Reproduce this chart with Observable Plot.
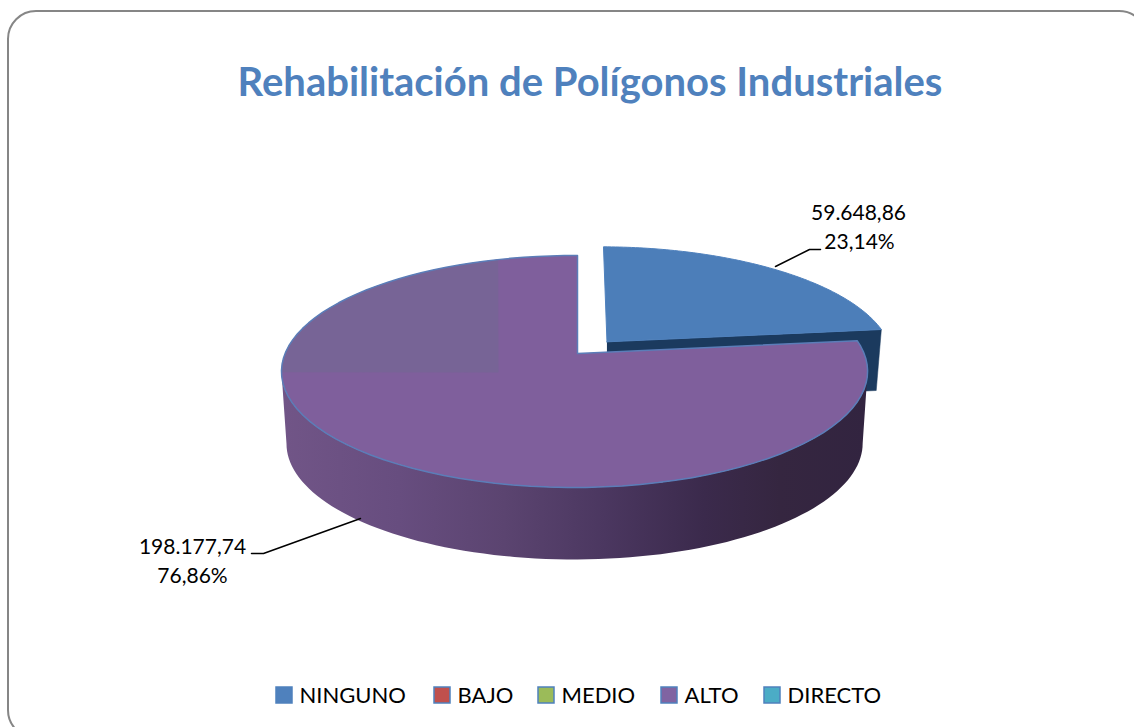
<!DOCTYPE html>
<html><head><meta charset="utf-8">
<style>html,body{margin:0;padding:0;background:#fff;overflow:hidden}svg{display:block;overflow:hidden}</style>
<script src="https://cdn.jsdelivr.net/npm/d3@7"></script>
<script src="https://cdn.jsdelivr.net/npm/@observablehq/plot@0.6"></script>
</head><body><div id="c"></div>
<script>
const titleText = "Rehabilitación de Polígonos Industriales";
const categories = ["NINGUNO", "BAJO", "MEDIO", "ALTO", "DIRECTO"];
const values = [59648.86, 0, 0, 198177.74, 0];

// styles and layout (kept apart from the data)
const legendFill = ["#4F81BD", "#C0504D", "#9BBB59", "#8064A2", "#4BACC6"];
const legendX = [276, 434, 538, 661, 764];
const cam = {cx: 577, cy: 353, rx: 289.5, ry: 113.2, k: 0.155, m: 0.01, wallScale: 0.983};
const depthMain = 72, depthBlue = 61, explode = 0.14, blueShift = 3;

const total = d3.sum(values);
const es = d3.formatLocale({decimal: ",", thousands: ".", grouping: [3], currency: ["", "€"]});
const fmtV = es.format(",.2f"), fmtP = es.format(".2%");

// perspective projection of the unit disc
function project(u, v, h = 0, depth = 0, dx = 0) {
  const w = 1 + cam.k * v + cam.m * u;
  const s = h ? cam.wallScale : 1;
  return {x: cam.cx + dx + s * cam.rx * u / w, y: cam.cy - cam.ry * v / w + h * depth};
}
const steps = 90;
function rim(a0, a1, ox = 0, oy = 0, h = 0, depth = 0, dx = 0) {
  return d3.range(steps + 1).map(i => {
    const a = a0 + (a1 - a0) * i / steps;
    return project(Math.sin(a) + ox, Math.cos(a) + oy, h, depth, dx);
  });
}
const TAU = 2 * Math.PI;
const endBlue = TAU * values[0] / total;      // ALTO and NINGUNO meet here
const mid = endBlue / 2;
const ox = explode * Math.sin(mid), oy = explode * Math.cos(mid);

const apex = project(ox, oy, 0, 0, blueShift);
const blueTop = [apex, ...rim(0, endBlue, ox, oy, 0, 0, blueShift), apex];
const blueWall = [apex, project(Math.sin(endBlue) + ox, Math.cos(endBlue) + oy, 0, 0, blueShift),
  project(Math.sin(endBlue) + ox, Math.cos(endBlue) + oy, 1, depthBlue, blueShift), project(ox, oy, 1, depthBlue, blueShift)];
const purpleTop = [project(0, 0), ...rim(endBlue, TAU), project(0, 0)];
const silR = Math.acos(-cam.k), silL = TAU - silR;
const purpleWall = [...rim(silR, silL), ...rim(silL, silR, 0, 0, 1, depthMain)];
// lighter box at the back left of the ALTO face
const patchCorner = {x: 498, y: 372};
const patch = [patchCorner,
  ...d3.range(0, 721).map(i => Math.PI + Math.PI * i / 720)
    .map(a => project(Math.sin(a), Math.cos(a)))
    .filter(p => p.x <= patchCorner.x && p.y <= patchCorner.y)];

const labels = [
  {x: 858, y: 213, t: fmtV(values[0])},
  {x: 859, y: 242, t: fmtP(values[0] / total)},
  {x: 192, y: 547, t: fmtV(values[3])},
  {x: 192, y: 576, t: fmtP(values[3] / total)}
];
const leaderBlue = [{x: 775, y: 266}, {x: 809, y: 249}, {x: 820, y: 249}];
const leaderPurple = [{x: 360, y: 518}, {x: 263, y: 553}, {x: 251, y: 553}];
const legend = categories.map((c, i) => ({c, x: legendX[i], color: legendFill[i]}));
const legendY = 695;

const defs = () => {
  const d = d3.create("svg:defs");
  const g = d.append("linearGradient").attr("id", "wall").attr("gradientUnits", "userSpaceOnUse")
    .attr("x1", 281).attr("x2", 868).attr("y1", 0).attr("y2", 0);
  [[0, "#715587"], [0.2, "#674D7F"], [0.38, "#5B4470"], [0.55, "#4B3760"], [0.72, "#3B2A4C"], [0.85, "#352640"], [1, "#322440"]]
    .forEach(([o, c]) => g.append("stop").attr("offset", o).attr("stop-color", c));
  return d.node();
};

const chart = Plot.plot({
  width: 1134, height: 727, margin: 0,
  x: {type: "linear", domain: [0, 1134], range: [0, 1134], axis: null},
  y: {type: "linear", domain: [0, 727], range: [0, 727], axis: null},
  style: {background: "#fff", fontFamily: "Lato, sans-serif"},
  marks: [
    defs,
    Plot.rect([{}], {x1: () => 8, x2: () => 1147, y1: () => 11, y2: () => 738, rx: 28, fill: "#fff", stroke: "#868686", strokeWidth: 2}),
    Plot.line(blueWall, {x: "x", y: "y", fill: "#1B3A5E", stroke: "#1B3A5E", strokeWidth: 0.5}),
    Plot.line(blueTop, {x: "x", y: "y", fill: "#4C7EB9", stroke: "#4F81BD", strokeWidth: 1}),
    Plot.line(purpleWall, {x: "x", y: "y", fill: "url(#wall)"}),
    Plot.line(purpleTop, {x: "x", y: "y", fill: "#7F5F9C"}),
    Plot.line(patch, {x: "x", y: "y", fill: "#776496"}),
    Plot.line(purpleTop, {x: "x", y: "y", stroke: "#5B7DB8", strokeWidth: 1.5}),
    Plot.line(leaderBlue, {x: "x", y: "y", stroke: "#000", strokeWidth: 1.5}),
    Plot.line(leaderPurple, {x: "x", y: "y", stroke: "#000", strokeWidth: 1.5}),
    Plot.text(labels, {x: "x", y: "y", text: "t", fontSize: 21, fill: "#000", lineAnchor: "middle"}),
    Plot.text([titleText], {x: () => 589.5, y: () => 83, text: d => d, fontSize: 40, fontWeight: 700, fill: "#4F81BD", lineAnchor: "middle"}),
    Plot.rect(legend, {x1: "x", x2: d => d.x + 16, y1: () => legendY - 8, y2: () => legendY + 8,
      fill: {value: d => d.color, scale: null}, stroke: "#4F81BD", strokeWidth: 1.5}),
    Plot.text(legend, {x: d => d.x + 23, y: () => legendY, text: "c", textAnchor: "start", lineAnchor: "middle", fontSize: 22, fill: "#000"})
  ]
});
document.getElementById("c").append(chart);
</script></body></html>
